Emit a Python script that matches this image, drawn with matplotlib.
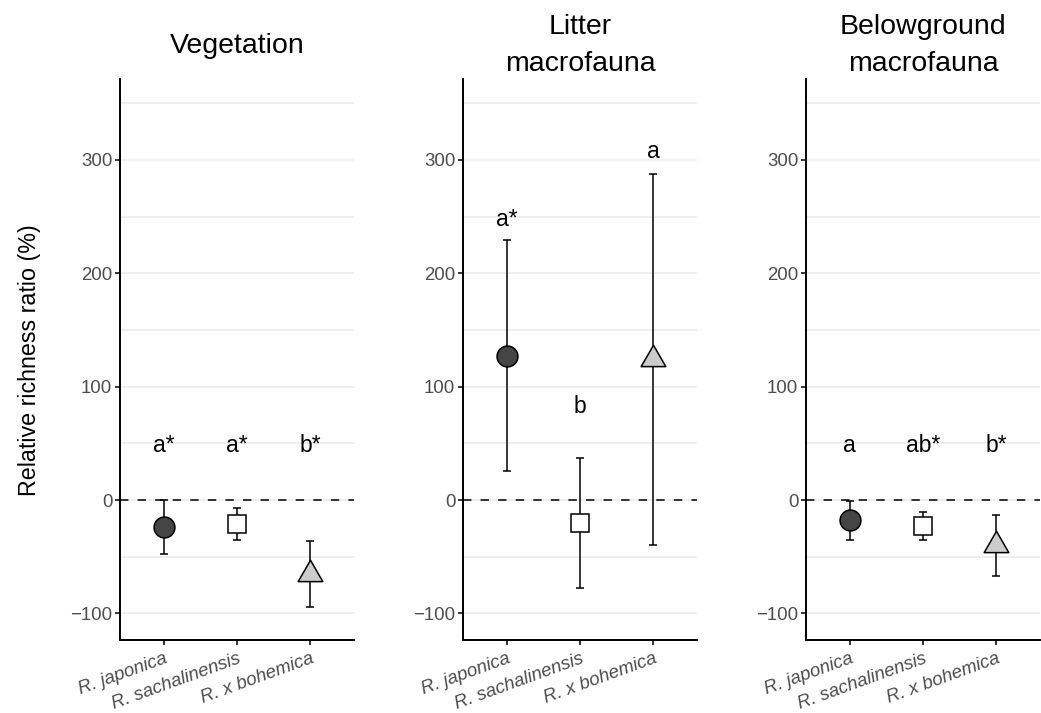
import matplotlib
matplotlib.use('Agg')
import matplotlib.pyplot as plt
from matplotlib.path import Path

plt.rcParams['font.family'] = ['Liberation Sans', 'DejaVu Sans']

# categories and panel titles
species = ['R. japonica', 'R. sachalinensis', 'R. x bohemica']
panel_titles = ['Vegetation', 'Litter\nmacrofauna', 'Belowground\nmacrofauna']

# mean and error bar limits (%)
veg_mean = [-24, -21, -65]
veg_low = [-48, -35, -94]
veg_high = [0, -7, -36]

litter_mean = [127.5, -20, 124]
litter_low = [26, -78, -40]
litter_high = [229, 37, 288]

below_mean = [-18, -23, -40]
below_low = [-35, -35, -67]
below_high = [-1, -11, -13]

# significance letters and their heights
veg_letters = ['a*', 'a*', 'b*']
veg_letter_y = [42, 42, 42]
litter_letters = ['a*', 'b', 'a']
litter_letter_y = [242, 77, 302]
below_letters = ['a', 'ab*', 'b*']
below_letter_y = [42, 42, 42]

# R-like triangle (pch 24), centred on its centroid
tri = Path([(0, 1), (0.866, -0.5), (-0.866, -0.5), (0, 1)],
           [Path.MOVETO, Path.LINETO, Path.LINETO, Path.CLOSEPOLY])
markers = ['o', 's', tri]
marker_sizes = [15, 12.5, 20.5]
fills = ['#454545', 'white', '#CCCCCC']

W, H = 1041, 713
fig = plt.figure(figsize=(W / 100, H / 100), dpi=100)

panel_left = [120, 463, 806]
panel_w = 234
top_px, bot_px = 79.3, 640

data = [
    (veg_mean, veg_low, veg_high, veg_letters, veg_letter_y),
    (litter_mean, litter_low, litter_high, litter_letters, litter_letter_y),
    (below_mean, below_low, below_high, below_letters, below_letter_y),
]

x = [1, 2, 3]
for i, (mean, low, high, letters, letter_y) in enumerate(data):
    ax = fig.add_axes([panel_left[i] / W, (H - bot_px) / H,
                       panel_w / W, (bot_px - top_px) / H])
    ax.set_xlim(0.4, 3.6)
    ax.set_ylim(-123.5, 371.2)

    # grid
    ax.set_yticks([-100, 0, 100, 200, 300])
    ax.set_yticks([-50, 50, 150, 250, 350], minor=True)
    ax.yaxis.grid(True, which='both', color='#EBEBEB', lw=1.1)
    ax.set_axisbelow(True)

    ax.axhline(0, color='black', lw=1.1, ls=(0, (5.5, 6)), zorder=1.5)

    yerr = [[m - l for m, l in zip(mean, low)], [h - m for m, h in zip(mean, high)]]
    ax.errorbar(x, mean, yerr=yerr, fmt='none', ecolor='black',
                elinewidth=1.1, capsize=2.8, capthick=1.1, zorder=2)
    for j in range(3):
        ax.plot(x[j], mean[j], marker=markers[j], ms=marker_sizes[j],
                mfc=fills[j], mec='black', mew=1.1, ls='none', zorder=3)
        ax.text(x[j], letter_y[j], letters[j], ha='center', va='baseline',
                fontsize=16.5, color='black')

    for s in ['top', 'right']:
        ax.spines[s].set_visible(False)
    for s in ['left', 'bottom']:
        ax.spines[s].set_linewidth(1.4)
        ax.spines[s].set_color('black')

    ax.set_xticks(x)
    ax.set_xticklabels(species, rotation=20, ha='right', rotation_mode='anchor',
                       va='top', fontstyle='italic', fontsize=13.4, color='#4D4D4D')
    ax.tick_params(axis='both', which='major', length=3.5, width=1.1,
                   color='black', pad=2)
    ax.tick_params(axis='x', pad=4)
    ax.tick_params(axis='y', which='minor', length=0)
    for lab in ax.get_yticklabels():
        lab.set_fontsize(13.4)
        lab.set_color('#4D4D4D')

    # title
    cx = (panel_left[i] + panel_w / 2) / W
    base = 53 if '\n' not in panel_titles[i] else 71
    fig.text(cx, 1 - base / H, panel_titles[i], ha='center', va='baseline',
             fontsize=20.5, linespacing=1.55, multialignment='center')

fig.text(30 / W, 1 - 360 / H, 'Relative richness ratio (%)', rotation=90,
         ha='center', va='center', fontsize=16.75)

fig.savefig('out.png', dpi=100)
